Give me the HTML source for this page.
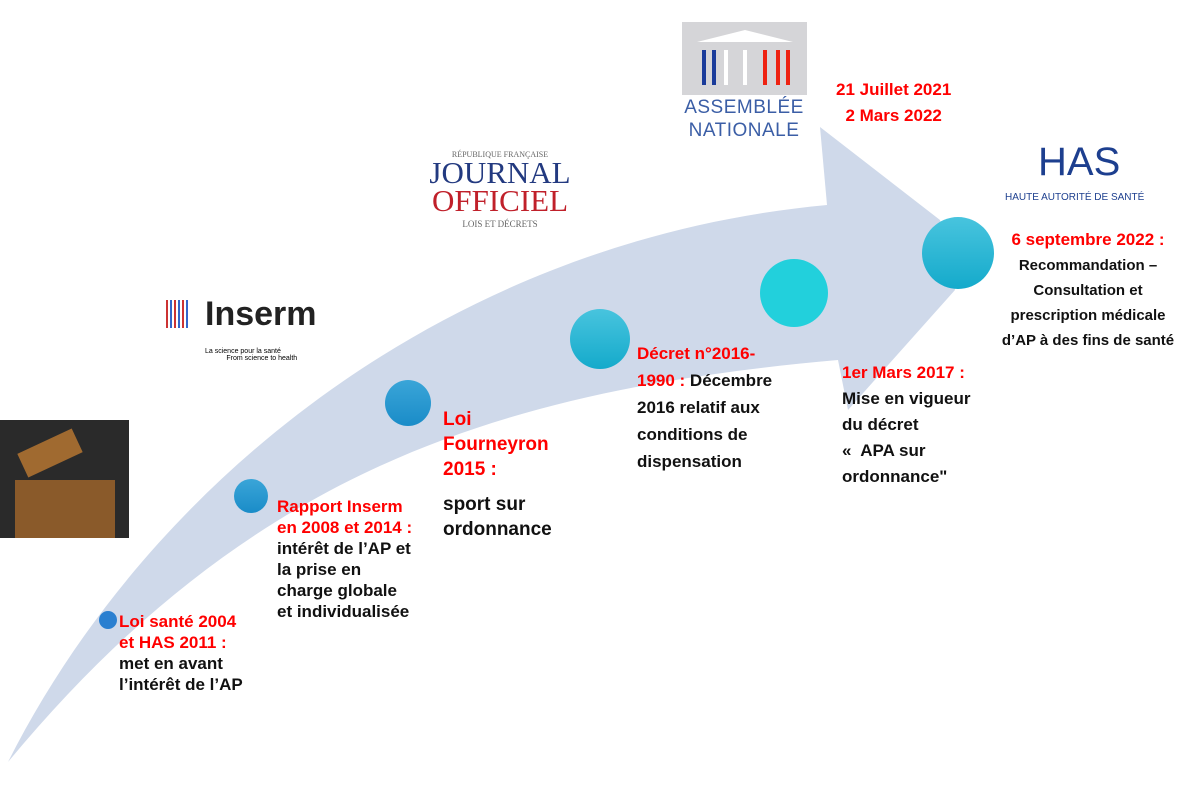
<!DOCTYPE html>
<html><head><meta charset="utf-8"><style>
body{margin:0;width:1182px;height:794px;background:#fff;position:relative;overflow:hidden;font-family:"Liberation Sans",sans-serif;font-weight:bold}
.t{position:absolute;font-size:17px;line-height:21px;color:#111}
.r{color:#f00}
</style></head><body>
<svg width="1182" height="794" style="position:absolute;left:0;top:0">
<defs>
<linearGradient id="c" x1="0" y1="0" x2="0" y2="1"><stop offset="0" stop-color="#48c4de"/><stop offset="1" stop-color="#14aacb"/></linearGradient>
<linearGradient id="b" x1="0" y1="0" x2="0" y2="1"><stop offset="0" stop-color="#3aa5d8"/><stop offset="1" stop-color="#1a8cc8"/></linearGradient>
</defs>
<path d="M8,762 C150,480 450,240 827,205 L820,127 L940,220 L955,290 L848,410 L838,360 C500,390 250,470 8,762 Z" fill="#cfd9ea"/>
<circle cx="108" cy="620" r="9" fill="#2a7fd0"/>
<circle cx="251" cy="496" r="17" fill="url(#b)"/>
<circle cx="408" cy="403" r="23" fill="url(#b)"/>
<circle cx="600" cy="339" r="30" fill="url(#c)"/>
<circle cx="794" cy="293" r="34" fill="#22d0dc"/>
<circle cx="958" cy="253" r="36" fill="url(#c)"/>
<rect x="682" y="22" width="125" height="73" fill="#d5d5d8"/>
<path d="M697,42 L745,30 L793,42 Z" fill="#fff"/>
<g stroke-width="4"><line x1="704" y1="50" x2="704" y2="85" stroke="#1a3b9a"/><line x1="714" y1="50" x2="714" y2="85" stroke="#1a3b9a"/><line x1="726" y1="50" x2="726" y2="85" stroke="#fff"/><line x1="745" y1="50" x2="745" y2="85" stroke="#fff"/><line x1="765" y1="50" x2="765" y2="85" stroke="#e21"/><line x1="778" y1="50" x2="778" y2="85" stroke="#e21"/><line x1="788" y1="50" x2="788" y2="85" stroke="#e21"/></g>
<rect x="0" y="420" width="129" height="118" fill="#2a2a2a"/>
<rect x="15" y="480" width="100" height="58" fill="#8a5a2a"/>
<rect x="20" y="440" width="60" height="26" fill="#a06a30" transform="rotate(-25 50 453)"/>
</svg>
<div style="position:absolute;left:679px;top:96px;font-size:19px;font-weight:normal;color:#3b5ea6;letter-spacing:0.5px;line-height:23px;text-align:center;width:130px">ASSEMBLÉE<br>NATIONALE</div>
<div class="t r" style="left:836px;top:77px;font-size:17px;line-height:26px;text-align:center">21 Juillet 2021<br>2 Mars 2022</div>
<div style="position:absolute;left:1038px;top:140px;font-size:40px;font-weight:normal;color:#1d3f8f">HAS</div>
<div style="position:absolute;left:1005px;top:192px;font-size:10px;font-weight:normal;color:#1d3f8f">HAUTE AUTORITÉ DE SANTÉ</div>
<div style="position:absolute;left:425px;top:150px;font-family:'Liberation Serif',serif;font-weight:normal;text-align:center;width:150px">
<div style="font-size:8px;color:#666">RÉPUBLIQUE FRANÇAISE</div>
<div style="font-size:31px;line-height:28px;color:#233a80">JOURNAL</div>
<div style="font-size:31px;line-height:28px;color:#c0202a">OFFICIEL</div>
<div style="font-size:9px;color:#666;margin-top:4px">LOIS ET DÉCRETS</div></div>
<div style="position:absolute;left:205px;top:295px;font-size:34px;color:#222">Inserm</div>
<div style="position:absolute;left:166px;top:300px;width:22px;height:28px;background:repeating-linear-gradient(90deg,#c33 0 2px,#fff 2px 4px,#36c 4px 6px,#fff 6px 8px)"></div>
<div style="position:absolute;left:205px;top:348px;font-size:7px;font-weight:normal">La science pour la santé<br>&nbsp;&nbsp;&nbsp;&nbsp;&nbsp;&nbsp;&nbsp;&nbsp;&nbsp;&nbsp;&nbsp;From science to health</div>
<div class="t" style="left:119px;top:611px"><span class="r">Loi santé 2004<br>et HAS 2011 :</span><br>met en avant<br>l’intérêt de l’AP</div>
<div class="t" style="left:277px;top:496px"><span class="r">Rapport Inserm<br>en 2008 et 2014 :</span><br>intérêt de l’AP et<br>la prise en<br>charge globale<br>et individualisée</div>
<div class="t" style="left:443px;top:407px;font-size:19px;line-height:25px"><span class="r">Loi<br>Fourneyron<br>2015 :</span><br><div style="height:10px"></div>sport sur<br>ordonnance</div>
<div class="t" style="left:637px;top:340px;line-height:27px"><span class="r">Décret n°2016-<br>1990 :</span> Décembre<br>2016 relatif aux<br>conditions de<br>dispensation</div>
<div class="t" style="left:842px;top:360px;line-height:26px"><span class="r">1er Mars 2017 :</span><br>Mise en vigueur<br>du décret<br>«&nbsp; APA sur<br>ordonnance"</div>
<div class="t" style="left:993px;top:227px;width:190px;text-align:center;font-size:15px;line-height:25px"><span class="r" style="font-size:17px">6 septembre 2022 :</span><br>Recommandation –<br>Consultation et<br>prescription médicale<br>d’AP à des fins de santé</div>
</body></html>
